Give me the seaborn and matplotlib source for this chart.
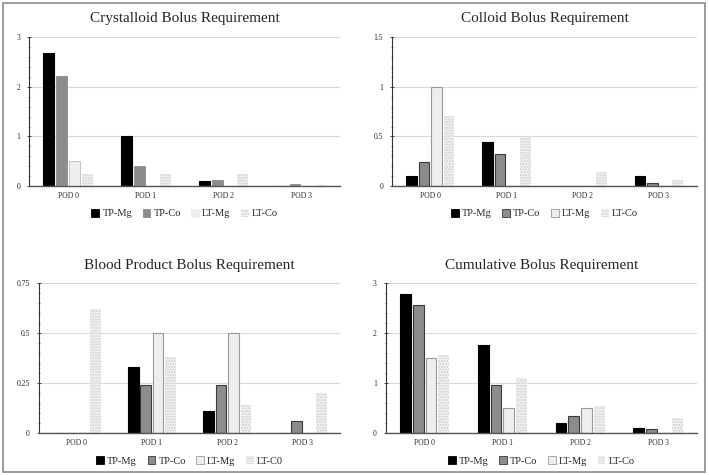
import numpy as np
import pandas as pd
import matplotlib
matplotlib.use("Agg")
import matplotlib.pyplot as plt
from matplotlib.patches import Patch, Rectangle
from matplotlib.ticker import MultipleLocator
import seaborn as sns

categories = ["POD 0", "POD 1", "POD 2", "POD 3"]
groups = ["TP-Mg", "TP-Co", "LT-Mg", "LT-Co"]

cryst_tp_mg = [2.67, 1.00, 0.11, 0.00]
cryst_tp_co = [2.21, 0.41, 0.12, 0.04]
cryst_lt_mg = [0.50, 0.00, 0.00, 0.00]
cryst_lt_co = [0.25, 0.25, 0.25, 0.03]

coll_tp_mg = [0.10, 0.44, 0.00, 0.10]
coll_tp_co = [0.24, 0.32, 0.00, 0.03]
coll_lt_mg = [1.00, 0.00, 0.00, 0.00]
coll_lt_co = [0.71, 0.49, 0.14, 0.06]

blood_tp_mg = [0.00, 0.33, 0.11, 0.00]
blood_tp_co = [0.00, 0.24, 0.24, 0.06]
blood_lt_mg = [0.00, 0.50, 0.50, 0.00]
blood_lt_co = [0.62, 0.38, 0.14, 0.20]

cum_tp_mg = [2.78, 1.77, 0.21, 0.10]
cum_tp_co = [2.57, 0.97, 0.35, 0.09]
cum_lt_mg = [1.50, 0.50, 0.50, 0.00]
cum_lt_co = [1.57, 1.11, 0.54, 0.31]

titles = ["Crystalloid Bolus Requirement", "Colloid Bolus Requirement",
          "Blood Product Bolus Requirement", "Cumulative Bolus Requirement"]
legend_labels = [["TP-Mg", "TP-Co", "LT-Mg", "LT-Co"],
                 ["TP-Mg", "TP-Co", "LT-Mg", "LT-Co"],
                 ["TP-Mg", "TP-Co", "LT-Mg", "LT-C0"],
                 ["TP-Mg", "TP-Co", "LT-Mg", "LT-Co"]]
yticks = [[0, 1, 2, 3], [0, 0.5, 1, 1.5], [0, 0.25, 0.5, 0.75], [0, 1, 2, 3]]
yticklabels = [["0", "1", "2", "3"], ["0", "0.5", "1", "1.5"],
               ["0", "0.25", "0.5", "0.75"], ["0", "1", "2", "3"]]

panels = [
    [cryst_tp_mg, cryst_tp_co, cryst_lt_mg, cryst_lt_co],
    [coll_tp_mg, coll_tp_co, coll_lt_mg, coll_lt_co],
    [blood_tp_mg, blood_tp_co, blood_lt_mg, blood_lt_co],
    [cum_tp_mg, cum_tp_co, cum_lt_mg, cum_lt_co],
]

sns.set_theme(style="white")
plt.rcParams['font.family'] = ['Liberation Serif', 'DejaVu Serif']
plt.rcParams['hatch.linewidth'] = 1.0

fig = plt.figure(figsize=(7.09, 4.75), dpi=100)
fig.patch.set_facecolor("white")
fig.add_artist(Rectangle((0.004, 0.006), 0.99, 0.988, transform=fig.transFigure,
                         fill=False, edgecolor="#8a8a8a", linewidth=1.2))

positions = [
    [0.041, 0.608, 0.439, 0.314],
    [0.553, 0.608, 0.430, 0.314],
    [0.055, 0.088, 0.425, 0.316],
    [0.544, 0.088, 0.439, 0.316],
]

face = ["#000000", "#8c8c8c", "#eeeeee", "#f4f4f4"]
edge = ["#000000", "#3a3a3a", "#9a9a9a", "#cccccc"]

for i, vals in enumerate(panels):
    ax = fig.add_axes(positions[i])
    rows = []
    for g, series in zip(groups, vals):
        for c, v in zip(categories, series):
            rows.append({"POD": c, "group": g, "value": v})
    df = pd.DataFrame(rows)
    sns.barplot(data=df, x="POD", y="value", hue="group", order=categories,
                hue_order=groups, palette=face, width=0.66, gap=0.15,
                ax=ax, legend=False, errorbar=None)
    for gi, cont in enumerate(ax.containers):
        for bar in cont:
            if gi == 3:
                bar.set_facecolor(face[3])
                bar.set_edgecolor(edge[3])
                bar.set_hatch("......")
                bar.set_linewidth(0)
            elif i == 0 and gi in (1, 2):
                bar.set_edgecolor("#bdbdbd" if gi == 2 else face[gi])
                bar.set_linewidth(0.6)
            else:
                bar.set_edgecolor(edge[gi])
                bar.set_linewidth(0.8)
    ax.set_ylim(0, yticks[i][-1])
    ax.set_xlim(-0.5, 3.5)
    ax.set_yticks(yticks[i])
    ax.set_yticklabels(yticklabels[i], fontsize=5.5)
    ax.yaxis.set_minor_locator(MultipleLocator(yticks[i][1] / 5))
    ax.tick_params(axis="y", which="major", length=3, width=0.6, direction="inout",
                   left=True, pad=5, color="#333333")
    ax.tick_params(axis="y", which="minor", length=1.5, width=0.5, direction="inout",
                   left=True, color="#555555")
    ax.tick_params(axis="x", length=0, pad=4, labelsize=5.5)
    ax.set_xlabel("")
    ax.set_ylabel("")
    ax.grid(axis="y", color="#d9d9d9", linewidth=0.8)
    ax.set_axisbelow(True)
    for s in ["top", "right"]:
        ax.spines[s].set_visible(False)
    ax.spines["left"].set_color("#333333")
    ax.spines["left"].set_linewidth(0.8)
    ax.spines["bottom"].set_color("#555555")
    ax.spines["bottom"].set_linewidth(1.0)
    ax.set_title(titles[i], fontsize=11, pad=10.5)
    handles = []
    for gi in range(4):
        if gi == 3:
            handles.append(Patch(facecolor=face[3], edgecolor=edge[3], hatch="......",
                                 linewidth=0, label=legend_labels[i][gi]))
        else:
            ec = face[gi] if (i == 0) else edge[gi]
            handles.append(Patch(facecolor=face[gi], edgecolor=ec, linewidth=0.6,
                                 label=legend_labels[i][gi]))
    ax.legend(handles=handles, loc="upper center", bbox_to_anchor=(0.5, -0.09),
              ncol=4, frameon=False, fontsize=7.5, handlelength=0.75, handleheight=0.75,
              handletextpad=0.3, columnspacing=1.0)

fig.savefig("out.png", dpi=100)
